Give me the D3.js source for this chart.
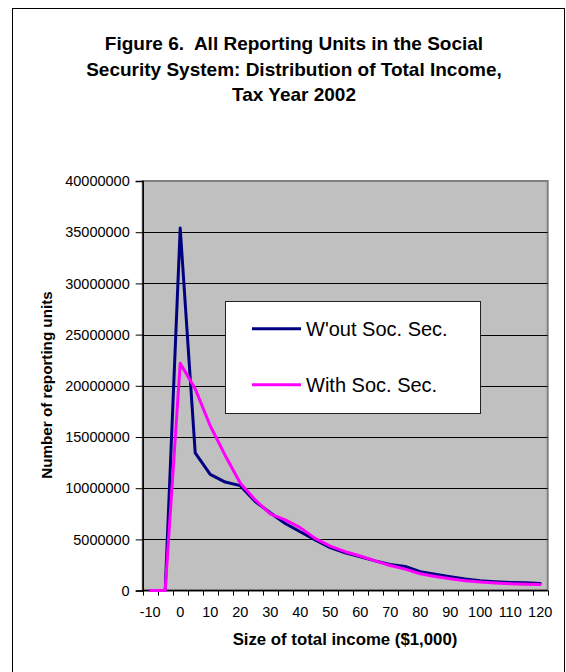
<!DOCTYPE html>
<html>
<head>
<meta charset="utf-8">
<script src="https://cdn.jsdelivr.net/npm/d3@7"></script>
<style>
  html, body { margin: 0; padding: 0; background: #fff; }
  svg { display: block; font-family: "Liberation Sans", Arial, sans-serif; }
  .title { white-space: pre; }
</style>
</head>
<body>
<svg id="chart" width="566" height="672"></svg>
<script>
// Income size classes ($1,000), one category per 5k step
const incomeBins = [-10, -5, 0, 5, 10, 15, 20, 25, 30, 35, 40, 45, 50, 55, 60,
                    65, 70, 75, 80, 85, 90, 95, 100, 105, 110, 115, 120];

// Number of reporting units per income class
const withoutSocSec = [0, 0, 35400000, 13450000, 11350000, 10600000, 10250000,
                       8700000, 7600000, 6550000, 5750000, 4950000, 4200000,
                       3700000, 3300000, 2900000, 2550000, 2350000, 1850000,
                       1600000, 1360000, 1130000, 970000, 870000, 800000,
                       760000, 700000];
const withSocSec = [0, 0, 22200000, 19700000, 16100000, 13200000, 10500000,
                    8850000, 7500000, 6900000, 6150000, 5100000, 4350000,
                    3800000, 3380000, 2900000, 2450000, 2100000, 1650000,
                    1380000, 1160000, 970000, 840000, 740000, 670000,
                    630000, 600000];

const yTicks = [0, 5000000, 10000000, 15000000, 20000000, 25000000,
                30000000, 35000000, 40000000];
const xLabelBins = [-10, 0, 10, 20, 30, 40, 50, 60, 70, 80, 90, 100, 110, 120];

const seriesNames = ["W'out Soc. Sec.", "With Soc. Sec."];
const seriesColors = ["#000080", "#FF00FF"];

const titleLines = ["Figure 6.  All Reporting Units in the Social",
                    "Security System: Distribution of Total Income,",
                    "Tax Year 2002"];

const svg = d3.select("#chart");

// outer chart frame
svg.append("rect")
  .attr("x", 12.5).attr("y", 8.5)
  .attr("width", 552).attr("height", 700)
  .attr("fill", "#fff").attr("stroke", "#000").attr("stroke-width", 1);

// title
svg.append("g").selectAll("text").data(titleLines).join("text")
  .attr("class", "title")
  .attr("xml:space", "preserve")
  .attr("x", 294).attr("y", (d, i) => 50 + i * 25.5)
  .attr("text-anchor", "middle")
  .attr("font-weight", "bold").attr("font-size", 19)
  .attr("fill", "#000")
  .text(d => d);

const plot = { left: 142.7, right: 547.7, top: 181, bottom: 590.6 };

const x = d3.scaleBand().domain(incomeBins).range([plot.left, plot.right]).padding(0);
const y = d3.scaleLinear().domain([0, 40000000]).range([plot.bottom, plot.top]);
const cx = v => x(v) + x.bandwidth() / 2;

// plot background
svg.append("rect")
  .attr("x", plot.left).attr("y", plot.top)
  .attr("width", plot.right - plot.left).attr("height", plot.bottom - plot.top)
  .attr("fill", "#C0C0C0").attr("stroke", "#808080").attr("stroke-width", 2);

// horizontal gridlines
svg.append("g").selectAll("line").data(yTicks.filter(t => t > 0 && t < 40000000)).join("line")
  .attr("x1", plot.left).attr("x2", plot.right)
  .attr("y1", d => Math.round(y(d)) + 0.5).attr("y2", d => Math.round(y(d)) + 0.5)
  .attr("stroke", "#000").attr("stroke-width", 1);

// y axis
const yAxis = d3.axisLeft(y).tickValues(yTicks).tickFormat(d3.format("d"))
  .tickSize(7).tickPadding(6);
const gy = svg.append("g").attr("transform", `translate(${plot.left},0)`).call(yAxis);
gy.select(".domain").attr("stroke", "#000").attr("stroke-width", 1.5);
gy.selectAll(".tick line").attr("stroke", "#000");
gy.selectAll("text").attr("font-size", 14.5).attr("fill", "#000")
  .attr("font-family", "Liberation Sans, Arial, sans-serif");

// x axis: ticks at category boundaries, labels every other category
const xAxisG = svg.append("g");
xAxisG.append("line")
  .attr("x1", plot.left).attr("x2", plot.right)
  .attr("y1", plot.bottom).attr("y2", plot.bottom)
  .attr("stroke", "#000").attr("stroke-width", 1.5);
const boundaries = incomeBins.map(b => x(b)).concat([plot.right]);
xAxisG.selectAll("line.tk").data(boundaries).join("line").attr("class", "tk")
  .attr("x1", d => Math.round(d) + 0.5).attr("x2", d => Math.round(d) + 0.5)
  .attr("y1", plot.bottom).attr("y2", plot.bottom + 5)
  .attr("stroke", "#000").attr("stroke-width", 1);
xAxisG.selectAll("text").data(xLabelBins).join("text")
  .attr("x", d => cx(d)).attr("y", 617)
  .attr("text-anchor", "middle").attr("font-size", 14.5).attr("fill", "#000")
  .text(d => d);

// axis titles
svg.append("text")
  .attr("x", 345).attr("y", 645)
  .attr("text-anchor", "middle").attr("font-weight", "bold").attr("font-size", 16.8)
  .text("Size of total income ($1,000)");
svg.append("text")
  .attr("transform", "translate(52,385) rotate(-90)")
  .attr("text-anchor", "middle").attr("font-weight", "bold").attr("font-size", 15.2)
  .text("Number of reporting units");

// series lines
const line = d3.line().x((d, i) => cx(incomeBins[i])).y(d => y(d));
[withoutSocSec, withSocSec].forEach((vals, k) => {
  svg.append("path").datum(vals)
    .attr("d", line)
    .attr("fill", "none")
    .attr("stroke", seriesColors[k]).attr("stroke-width", 3)
    .attr("stroke-linejoin", "round").attr("stroke-linecap", "round");
});

// legend
const lg = svg.append("g");
lg.append("rect")
  .attr("x", 225.5).attr("y", 301.5).attr("width", 255).attr("height", 112)
  .attr("fill", "#fff").attr("stroke", "#222").attr("stroke-width", 1);
const legendRows = [328.7, 384.7];
seriesNames.forEach((name, k) => {
  lg.append("line")
    .attr("x1", 252).attr("x2", 301)
    .attr("y1", legendRows[k]).attr("y2", legendRows[k])
    .attr("stroke", seriesColors[k]).attr("stroke-width", 3);
  lg.append("text")
    .attr("x", 306).attr("y", legendRows[k] + 7.2)
    .attr("font-size", 20).attr("fill", "#000")
    .text(name);
});
</script>
</body>
</html>
